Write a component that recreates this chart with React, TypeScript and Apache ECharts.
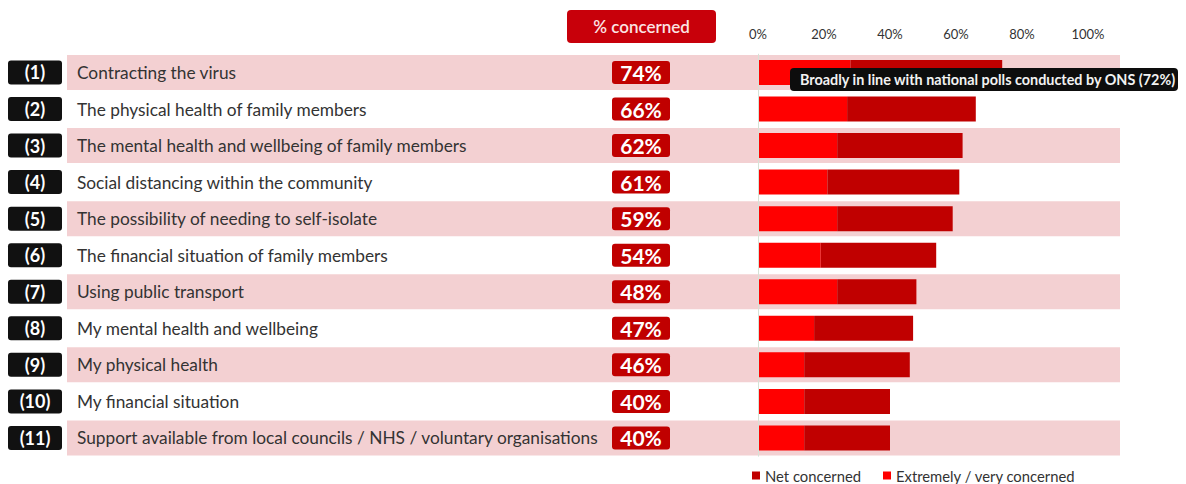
import React, { useEffect, useRef } from "react";
import * as echarts from "echarts";

const categories = [
  "Contracting the virus",
  "The physical health of family members",
  "The mental health and wellbeing of family members",
  "Social distancing within the community",
  "The possibility of needing to self-isolate",
  "The financial situation of family members",
  "Using public transport",
  "My mental health and wellbeing",
  "My physical health",
  "My financial situation",
  "Support available from local councils / NHS / voluntary organisations",
];
const rowNumbers = ["(1)", "(2)", "(3)", "(4)", "(5)", "(6)", "(7)", "(8)", "(9)", "(10)", "(11)"];
const netConcerned = [74, 66, 62, 61, 59, 54, 48, 47, 46, 40, 40];
const extremelyConcerned = [28, 27, 24, 21, 24, 19, 24, 17, 14, 14, 14];
const xTicks = [0, 20, 40, 60, 80, 100];
const calloutText = "Broadly in line with national polls conducted by ONS (72%)";

const FONT = "Lato, 'Open Sans', sans-serif";

export default function App() {
  const ref = useRef<HTMLDivElement>(null);
  useEffect(() => {
    document.body.style.margin = "0";
    if (!ref.current) return;
    const chart = echarts.init(ref.current, null, { renderer: "svg" });
    const top = 54.2;
    const height = 402;
    const bandData = categories.map((_, i) => ({
      value: 1,
      itemStyle: { color: i % 2 === 0 ? "#f3d0d2" : "rgba(255,255,255,0)" },
    }));
    const remainder = netConcerned.map((v, i) => v - extremelyConcerned[i]);
    chart.setOption({
      animation: false,
      textStyle: { fontFamily: FONT },
      grid: [
        { left: 67, width: 1053, top, height, containLabel: false },
        { left: 758, width: 330, top, height, containLabel: false },
      ],
      xAxis: [
        { gridIndex: 0, type: "value", min: 0, max: 1, show: false },
        {
          gridIndex: 1,
          type: "value",
          min: xTicks[0],
          max: xTicks[xTicks.length - 1],
          interval: 20,
          position: "top",
          axisLine: { show: false },
          axisTick: { show: false },
          splitLine: { show: false },
          axisLabel: {
            formatter: "{value}%",
            color: "#333",
            fontSize: 13,
            fontFamily: FONT,
            margin: 14,
          },
        },
      ],
      yAxis: [
        {
          gridIndex: 0,
          type: "category",
          inverse: true,
          data: rowNumbers,
          axisLine: { show: false },
          axisTick: { show: false },
          z: 5,
          axisLabel: {
            margin: 5,
            formatter: (v: string) => "{b|" + v + "}",
            rich: {
              b: {
                color: "#fff",
                fontWeight: "bold",
                fontSize: 18,
                fontFamily: FONT,
                backgroundColor: "#111",
                borderRadius: 3,
                width: 46,
                align: "center",
                lineHeight: 20,
                padding: [3, 4, 3, 4],
              },
            },
          },
        },
        {
          gridIndex: 1,
          type: "category",
          inverse: true,
          data: netConcerned.map((v) => v + "%"),
          axisLine: { show: true, lineStyle: { color: "#d6e2d6", width: 1 } },
          axisTick: { show: false },
          z: 5,
          axisLabel: {
            margin: 88,
            formatter: (v: string) => "{p|" + v + "}",
            rich: {
              p: {
                color: "#fff",
                fontWeight: "bold",
                fontSize: 21,
                fontFamily: FONT,
                backgroundColor: "#c00000",
                borderRadius: 3,
                width: 46,
                align: "center",
                lineHeight: 26,
                padding: [1, 6, 1, 6],
              },
            },
          },
        },
      ],
      legend: {
        left: 752,
        top: 468,
        padding: 0,
        icon: "rect",
        itemWidth: 8,
        itemHeight: 8,
        itemGap: 22,
        textStyle: { color: "#333", fontSize: 14.8, fontFamily: FONT },
        data: ["Net concerned", "Extremely / very concerned"],
      },
      series: [
        {
          type: "bar",
          name: "band",
          xAxisIndex: 0,
          yAxisIndex: 0,
          data: bandData,
          barWidth: 35,
          silent: true,
          z: 1,
          label: {
            show: true,
            position: "insideLeft",
            distance: 10,
            formatter: (p: any) => categories[p.dataIndex],
            color: "#333",
            fontSize: 17.3,
            fontFamily: FONT,
          },
        },
        {
          type: "bar",
          name: "Extremely / very concerned",
          xAxisIndex: 1,
          yAxisIndex: 1,
          stack: "c",
          data: extremelyConcerned,
          barWidth: 25,
          itemStyle: { color: "#ff0000" },
          z: 3,
        },
        {
          type: "bar",
          name: "Net concerned",
          xAxisIndex: 1,
          yAxisIndex: 1,
          stack: "c",
          data: remainder,
          barWidth: 25,
          itemStyle: { color: "#c00000" },
          z: 3,
        },
      ],
      graphic: [
        {
          type: "rect",
          shape: { x: 567, y: 10, width: 149, height: 33, r: 4 },
          style: { fill: "#c8000a" },
          z: 10,
        },
        {
          type: "text",
          x: 641.5,
          y: 26.5,
          style: {
            text: "% concerned",
            fill: "#fbe3e3",
            fontSize: 17,
            fontWeight: 600,
            fontFamily: FONT,
            align: "center",
            verticalAlign: "middle",
          },
          z: 11,
        },
        {
          type: "rect",
          shape: { x: 790, y: 68, width: 388, height: 23, r: 4 },
          style: { fill: "#0d0d0d" },
          z: 10,
        },
        {
          type: "text",
          x: 800,
          y: 79.5,
          style: {
            text: calloutText,
            fill: "#f2f2f2",
            fontSize: 14.4,
            fontWeight: "bold",
            fontFamily: FONT,
            align: "left",
            verticalAlign: "middle",
          },
          z: 11,
        },
      ],
    });
    return () => chart.dispose();
  }, []);
  return (
    <div
      ref={ref}
      style={{ position: "absolute", left: 0, top: 0, width: 1186, height: 484, background: "#fff" }}
    />
  );
}
